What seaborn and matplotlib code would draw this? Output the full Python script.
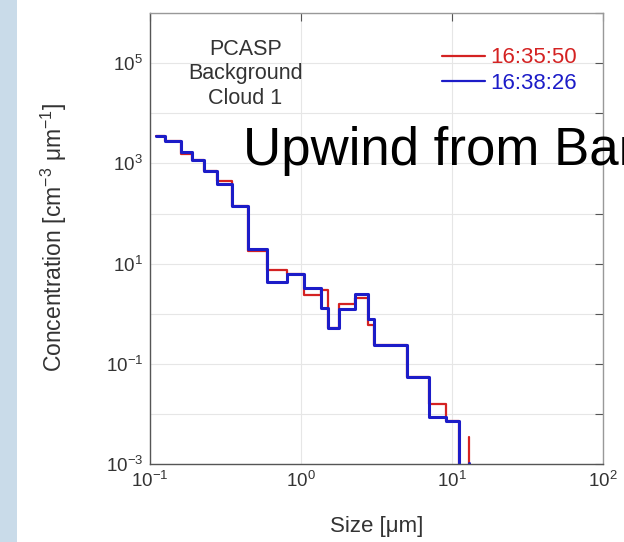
"""
PCASP size distribution, background cloud 1 (two passes).
Stair-step concentration vs particle size on log-log axes.
"""

import matplotlib
matplotlib.use("Agg")
import matplotlib.pyplot as plt
import matplotlib.patches as mpatches
from matplotlib.ticker import FixedLocator, FuncFormatter, NullLocator
import numpy as np
import pandas as pd
import seaborn as sns

# Bin positions (um) and concentrations (cm^-3 um^-1)
size_um = [0.109, 0.126, 0.161, 0.191, 0.227, 0.278, 0.350, 0.447, 0.593, 0.806,
           1.04, 1.36, 1.52, 1.78, 2.27, 2.77, 3.04, 5.07, 7.05, 9.11, 11.2, 13.0]
conc_163550 = [3500, 2740, 1560, 1185, 716, 438, 141, 17.9, 7.39, 6.35,
               2.35, 3.05, 0.524, 1.55, 2.07, 0.593, 0.237, 0.0553, 0.0156, 0.00736,
               1e-4, 0.00353]
conc_163826 = [3500, 2740, 1680, 1185, 716, 382, 141, 20.0, 4.32, 6.35,
               3.28, 1.28, 0.524, 1.22, 2.54, 0.805, 0.237, 0.0553, 0.00883, 0.00736,
               1e-4, 0.00105]
times = ["16:35:50", "16:38:26"]
colors = {"16:35:50": "#d42222", "16:38:26": "#1c1cc8"}

y_exponents = list(range(-3, 7))
x_exponents = [-1, 0, 1, 2]


def pow10_label(v, pos, skip_even=False):
    e = int(round(np.log10(v)))
    if skip_even and e % 2 == 0:
        return ""
    return f"$\\mathregular{{10^{{{e}}}}}$"


def main():
    df = pd.concat([
        pd.DataFrame({"size": size_um, "conc": conc_163550, "time": times[0]}),
        pd.DataFrame({"size": size_um, "conc": conc_163826, "time": times[1]}),
    ])

    sns.set_theme(style="white")
    plt.rcParams["font.family"] = ["Liberation Sans", "DejaVu Sans"]
    plt.rcParams["mathtext.fontset"] = "custom"
    plt.rcParams["mathtext.rm"] = "Liberation Sans"
    plt.rcParams["mathtext.it"] = "Liberation Sans:italic"
    plt.rcParams["axes.unicode_minus"] = False

    fig = plt.figure(figsize=(6.24, 5.42), dpi=100)
    fig.patch.set_facecolor("white")
    # light blue slide strip on the left
    fig.add_artist(mpatches.Rectangle((0, 0), 17 / 624, 1, transform=fig.transFigure,
                                      facecolor="#c9dbe9", edgecolor="none", zorder=0))

    ax = fig.add_axes([150 / 624, 1 - 464.2 / 542, 453 / 624, 451.2 / 542])
    ax.set_xscale("log")
    ax.set_yscale("log")

    widths = {"16:35:50": 1.6, "16:38:26": 2.2}
    for t in times:
        sns.lineplot(data=df[df["time"] == t], x="size", y="conc", ax=ax,
                     color=colors[t], linewidth=widths[t], label=t,
                     drawstyle="steps-post", sort=False, estimator=None)

    ax.set_xlim(0.1, 100)
    ax.set_ylim(1e-3, 1e6)

    # ticks at every decade; y labels only on odd exponents
    ax.yaxis.set_major_locator(FixedLocator([10.0 ** e for e in y_exponents]))
    ax.yaxis.set_minor_locator(NullLocator())
    ax.xaxis.set_major_locator(FixedLocator([10.0 ** e for e in x_exponents]))
    ax.xaxis.set_minor_locator(NullLocator())
    ax.yaxis.set_major_formatter(FuncFormatter(lambda v, p: pow10_label(v, p, True)))
    ax.xaxis.set_major_formatter(FuncFormatter(pow10_label))

    ax.tick_params(which="major", direction="in", length=6, width=0.8, color="#555555",
                   labelsize=13.5, labelcolor="#333333", top=True, right=True, pad=5)
    ax.grid(True, which="major", color="#e6e6e6", linewidth=0.8)
    ax.set_axisbelow(True)

    for side in ["left", "bottom"]:
        ax.spines[side].set_color("#555555")
        ax.spines[side].set_linewidth(1.0)
    for side in ["top", "right"]:
        ax.spines[side].set_color("#999999")
        ax.spines[side].set_linewidth(1.0)

    ax.set_xlabel("Size [μm]", fontsize=16, color="#333333")
    ax.set_ylabel("Concentration [cm$^{-3}$ μm$^{-1}$]", fontsize=16.5, color="#333333")
    ax.xaxis.set_label_coords(0.5, -0.114)
    ax.yaxis.set_label_coords(-0.178, 0.503)

    ax.text(0.21, 0.865, "PCASP\nBackground\nCloud 1", transform=ax.transAxes,
            ha="center", va="center", fontsize=15.5, color="#333333", linespacing=1.22)

    leg = ax.legend(loc="upper left", bbox_to_anchor=(0.644, 0.924), frameon=False,
                    fontsize=16, handlelength=1.95, handletextpad=0.25,
                    labelspacing=0.2, borderpad=0, borderaxespad=0,
                    labelcolor="linecolor")
    for line in leg.get_lines():
        line.set_linewidth(1.6)

    # slide title overlapping the figure, clipped by the right edge as in the slide
    fig.text(243 / 624, 1 - 165 / 542, "Upwind from Bar", fontsize=38,
             color="black", ha="left", va="baseline")

    fig.savefig("out.png", dpi=100)
    plt.close(fig)


if __name__ == "__main__":
    main()
